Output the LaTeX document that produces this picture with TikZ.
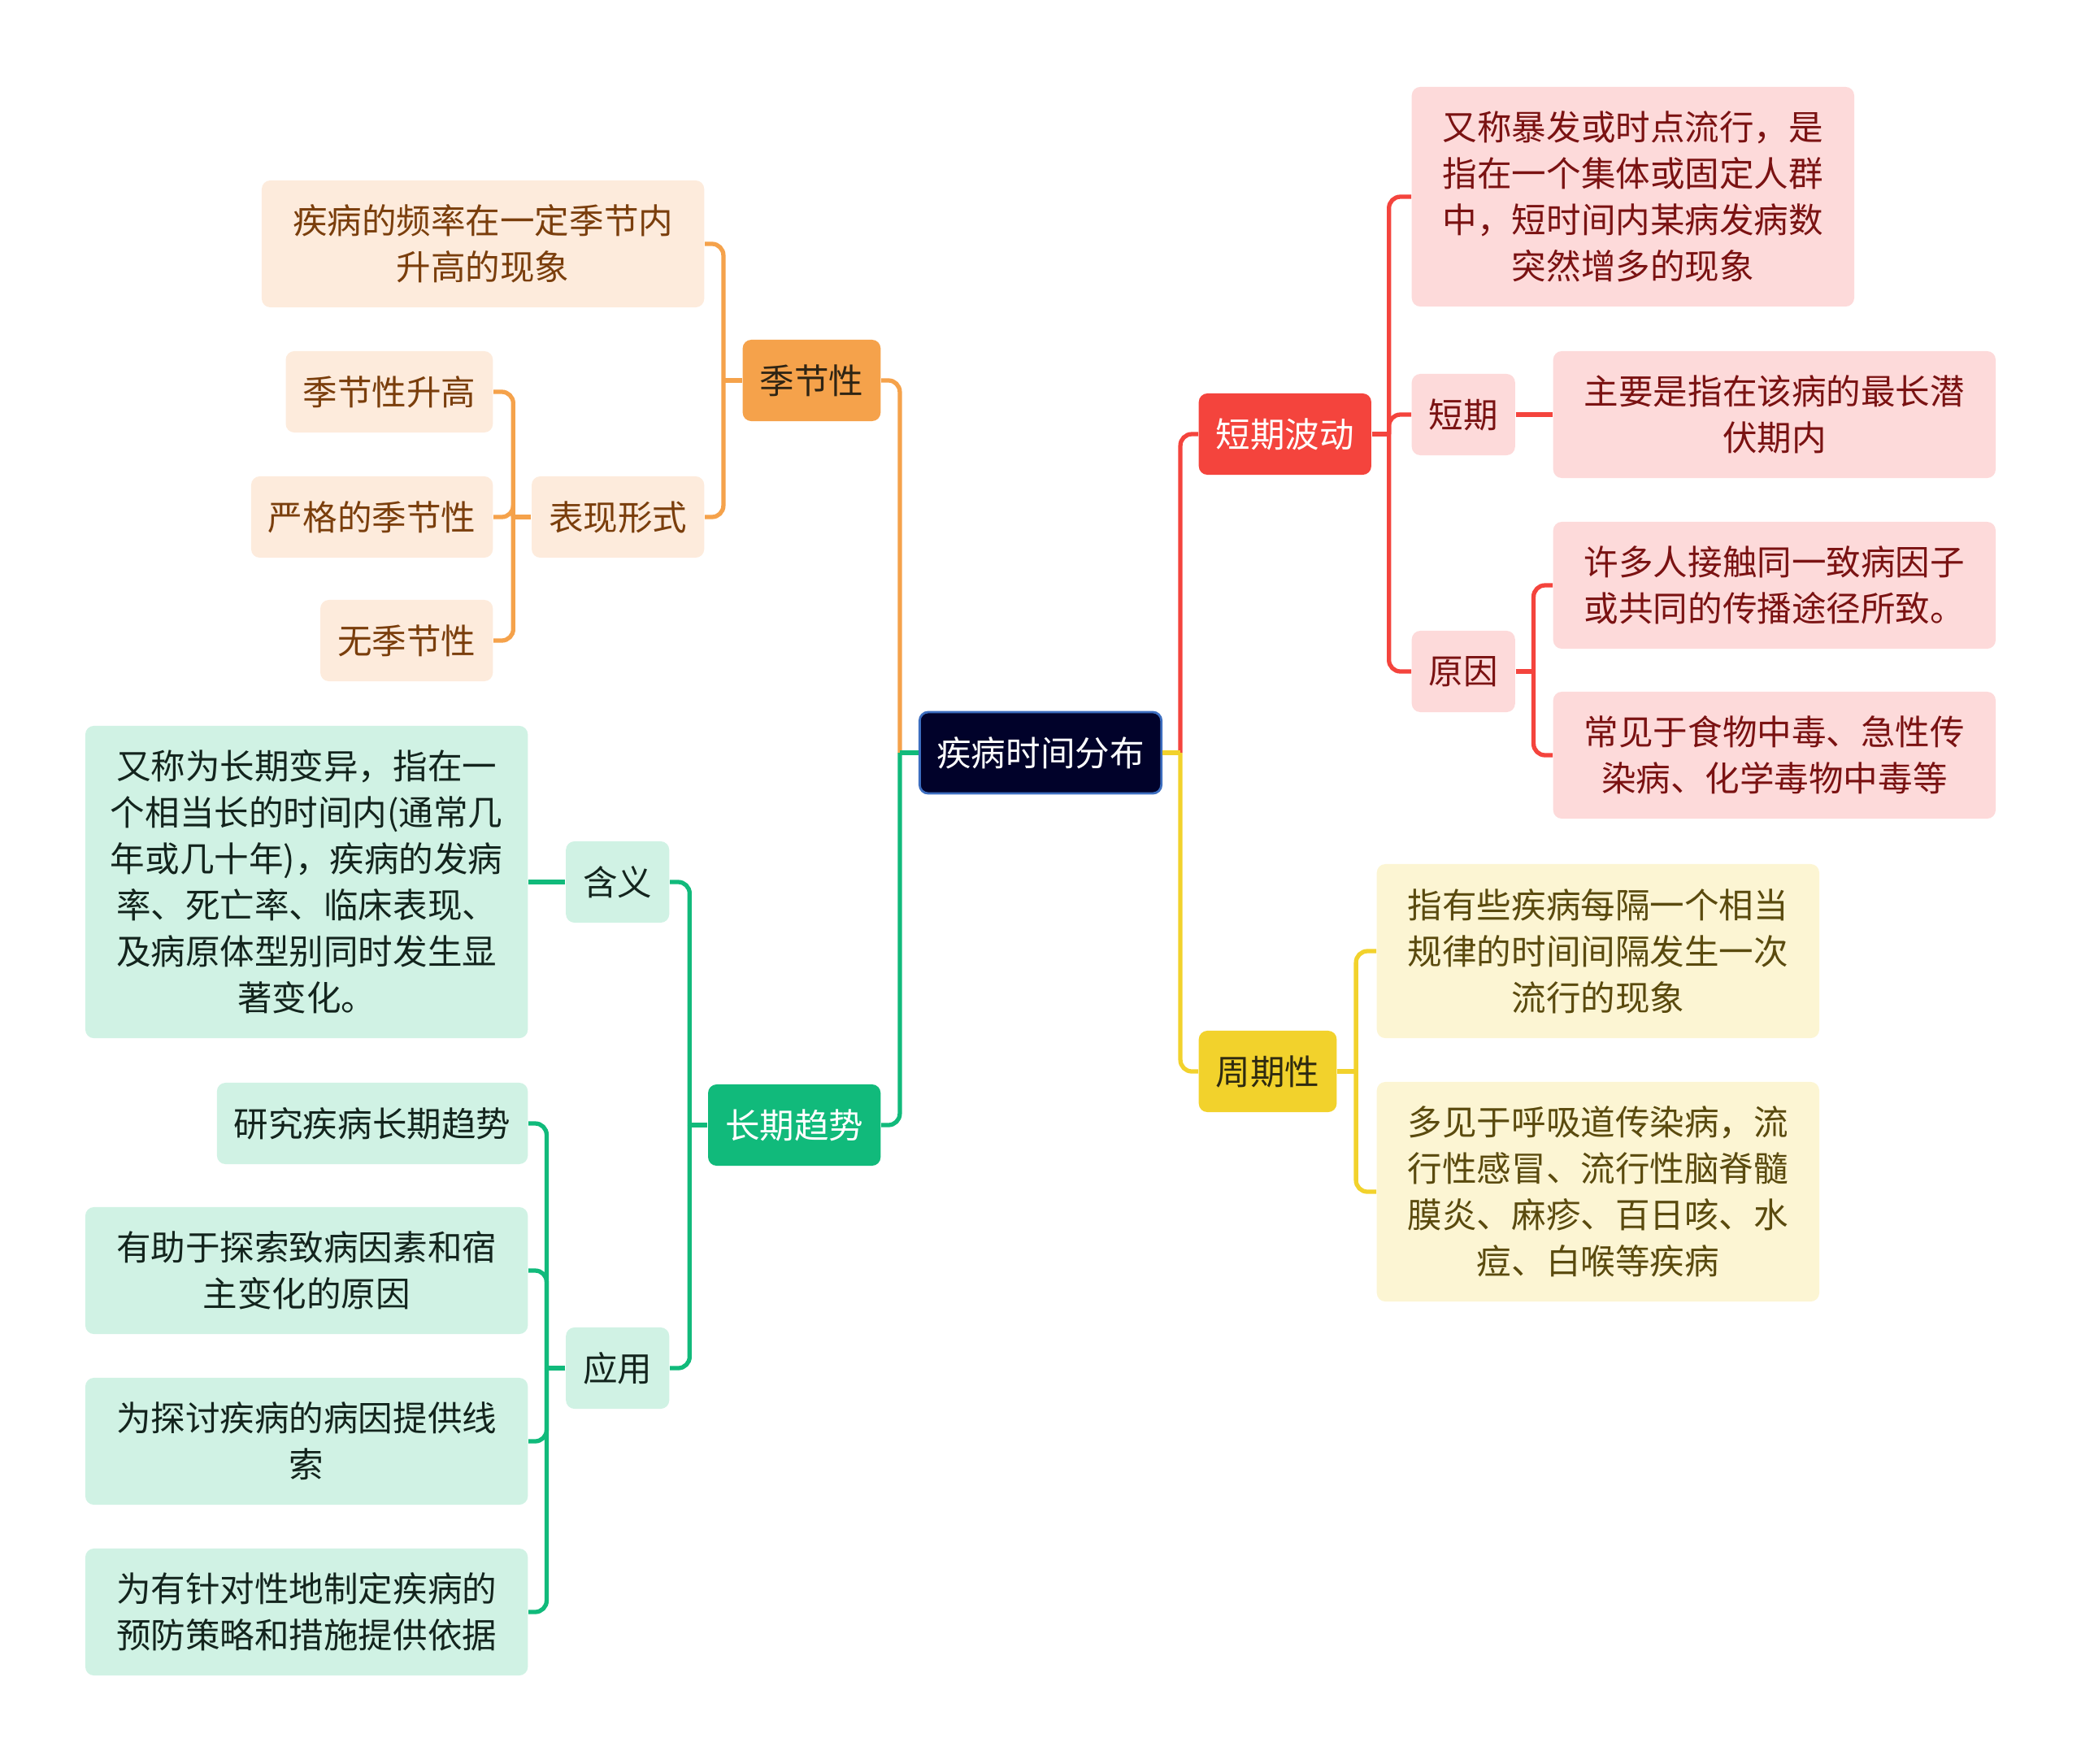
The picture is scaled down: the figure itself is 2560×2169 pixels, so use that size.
\documentclass[tikz,border=0pt]{standalone}
\usepackage{fontspec}
\setmainfont{Noto Sans CJK SC}
\usepackage{xcolor}
\usepackage{tikz}
\usetikzlibrary{positioning,calc}

\definecolor{rootbg}{HTML}{01022A}
\definecolor{rootln}{HTML}{3D6EC0}
\definecolor{jjmain}{HTML}{F5A24B}
\definecolor{jjleaf}{HTML}{FDEBDC}
\definecolor{jjtext}{HTML}{7A3E0C}
\definecolor{jjdark}{HTML}{2E2414}
\definecolor{dqmain}{HTML}{F4443D}
\definecolor{dqleaf}{HTML}{FDDADA}
\definecolor{dqtext}{HTML}{7A1212}
\definecolor{zqmain}{HTML}{F2D22C}
\definecolor{zqleaf}{HTML}{FCF5D3}
\definecolor{zqtext}{HTML}{5A4A0E}
\definecolor{zqdark}{HTML}{2E2A10}
\definecolor{cqmain}{HTML}{11BA7B}
\definecolor{cqleaf}{HTML}{D0F2E4}
\definecolor{cqtext}{HTML}{13241D}

\begin{document}
\begin{tikzpicture}[x=0.01cm, y=-0.01cm,
  box/.style={rounded corners=3pt, align=center, inner xsep=0.21cm, inner ysep=0pt,
    minimum height=1cm, font=\fontsize{12.1pt}{16.2pt}\selectfont},
  wide/.style={minimum width=5.44cm},
  root/.style={box, fill=rootbg, draw=rootln, line width=0.8pt, text=white},
  jjtop/.style={box, fill=jjmain, text=jjdark},
  jjsub/.style={box, fill=jjleaf, text=jjtext},
  dqtop/.style={box, fill=dqmain, text=white},
  dqsub/.style={box, fill=dqleaf, text=dqtext},
  zqtop/.style={box, fill=zqmain, text=zqdark},
  zqsub/.style={box, fill=zqleaf, text=zqtext},
  cqtop/.style={box, fill=cqmain, text=white},
  cqsub/.style={box, fill=cqleaf, text=cqtext},
  link/.style={line width=1.5pt, rounded corners=4pt}]
  \useasboundingbox (0,0) rectangle (2560,2169);

  \node[root] (R) at (1280,926) {疾病时间分布};

  % seasonal
  \node[jjtop, anchor=east] (Js) at (1084,468) {季节性};
  \node[jjsub, wide, anchor=east, minimum height=1.56cm] (Jd) at (867,300) {疾病的频率在一定季节内\\升高的现象};
  \node[jjsub, anchor=east] (Jb) at (867,636) {表现形式};
  \node[jjsub, anchor=east] (Jb1) at (607,482) {季节性升高};
  \node[jjsub, anchor=east] (Jb2) at (607,636) {严格的季节性};
  \node[jjsub, anchor=east] (Jb3) at (607,788) {无季节性};

  % long-term trend
  \node[cqtop, anchor=east] (Cq) at (1084,1384) {长期趋势};
  \node[cqsub, anchor=east] (Ch) at (824,1085) {含义};
  \node[cqsub, wide, anchor=east, minimum height=3.84cm] (Chd) at (650,1085)
    {又称为长期变异，指在一\\个相当长的时间内(通常几\\年或几十年)，疾病的发病\\率、死亡率、临床表现、\\及病原体型别同时发生显\\著变化。};
  \node[cqsub, anchor=east] (Cy) at (824,1683) {应用};
  \node[cqsub, anchor=east] (Cy1) at (650,1382) {研究疾病长期趋势};
  \node[cqsub, wide, anchor=east, minimum height=1.56cm] (Cy2) at (650,1563) {有助于探索致病因素和宿\\主变化的原因};
  \node[cqsub, wide, anchor=east, minimum height=1.56cm] (Cy3) at (650,1773) {为探讨疾病的病因提供线\\索};
  \node[cqsub, wide, anchor=east, minimum height=1.56cm] (Cy4) at (650,1983) {为有针对性地制定疾病的\\预防策略和措施提供依据};

  % short-term fluctuation
  \node[dqtop, anchor=west] (Dq) at (1474,534) {短期波动};
  \node[dqsub, wide, anchor=west, minimum height=2.70cm] (Dd) at (1736,242)
    {又称暴发或时点流行，是\\指在一个集体或固定人群\\中，短时间内某病发病数\\突然增多的现象};
  \node[dqsub, anchor=west] (Ds) at (1736,510) {短期};
  \node[dqsub, wide, anchor=west, minimum height=1.56cm] (Ds1) at (1910,510) {主要是指在该病的最长潜\\伏期内};
  \node[dqsub, anchor=west] (Dy) at (1736,826) {原因};
  \node[dqsub, wide, anchor=west, minimum height=1.56cm] (Dy1) at (1910,720) {许多人接触同一致病因子\\或共同的传播途径所致。};
  \node[dqsub, wide, anchor=west, minimum height=1.56cm] (Dy2) at (1910,929) {常见于食物中毒、急性传\\染病、化学毒物中毒等};

  % periodicity
  \node[zqtop, anchor=west] (Zq) at (1474,1318) {周期性};
  \node[zqsub, wide, anchor=west, minimum height=2.14cm] (Zq1) at (1693,1170)
    {指有些疾病每隔一个相当\\规律的时间间隔发生一次\\流行的现象};
  \node[zqsub, wide, anchor=west, minimum height=2.70cm] (Zq2) at (1693,1466)
    {多见于呼吸道传染病，流\\行性感冒、流行性脑脊髓\\膜炎、麻疹、百日咳、水\\痘、白喉等疾病};

  % trunk points
  \coordinate[left=0.23cm of R.west] (Rl);
  \coordinate[right=0.22cm of R.east] (Rr);
  \coordinate[left=0.23cm of Js.west] (Jt);
  \coordinate[left=0.22cm of Jb.west] (Jbt);
  \coordinate[left=0.22cm of Cq.west] (Ct);
  \coordinate[left=0.23cm of Cy.west] (Cyt);
  \coordinate[right=0.21cm of Dq.east] (Dt);
  \coordinate[right=0.22cm of Dy.east] (Dyt);
  \coordinate[right=0.23cm of Zq.east] (Zt);

  % connectors
  \draw[link, jjmain] (Rl) |- (Js.east);
  \draw[link, cqmain] (R.west) -- (Rl);
  \draw[link, cqmain] (Rl) |- (Cq.east);
  \draw[link, dqmain] (Rr) |- (Dq.west);
  \draw[link, zqmain] (R.east) -- (Rr);
  \draw[link, zqmain] (Rr) |- (Zq.west);

  \draw[link, jjmain] (Js.west) -- (Jt);
  \draw[link, jjmain] (Jt) |- (Jd.east);
  \draw[link, jjmain] (Jt) |- (Jb.east);
  \draw[link, jjmain] (Jb.west) -- (Jbt);
  \draw[link, jjmain] (Jbt) |- (Jb1.east);
  \draw[link, jjmain] (Jbt) |- (Jb2.east);
  \draw[link, jjmain] (Jbt) |- (Jb3.east);

  \draw[link, cqmain] (Cq.west) -- (Ct);
  \draw[link, cqmain] (Ct) |- (Ch.east);
  \draw[link, cqmain] (Ct) |- (Cy.east);
  \draw[link, cqmain] (Ch.west) -- (Chd.east);
  \draw[link, cqmain] (Cy.west) -- (Cyt);
  \draw[link, cqmain] (Cyt) |- (Cy1.east);
  \draw[link, cqmain] (Cyt) |- (Cy2.east);
  \draw[link, cqmain] (Cyt) |- (Cy3.east);
  \draw[link, cqmain] (Cyt) |- (Cy4.east);

  \draw[link, dqmain] (Dq.east) -- (Dt);
  \draw[link, dqmain] (Dt) |- (Dd.west);
  \draw[link, dqmain] (Dt) |- (Ds.west);
  \draw[link, dqmain] (Dt) |- (Dy.west);
  \draw[link, dqmain] (Ds.east) -- (Ds1.west);
  \draw[link, dqmain] (Dy.east) -- (Dyt);
  \draw[link, dqmain] (Dyt) |- (Dy1.west);
  \draw[link, dqmain] (Dyt) |- (Dy2.west);

  \draw[link, zqmain] (Zq.east) -- (Zt);
  \draw[link, zqmain] (Zt) |- (Zq1.west);
  \draw[link, zqmain] (Zt) |- (Zq2.west);
\end{tikzpicture}
\end{document}
